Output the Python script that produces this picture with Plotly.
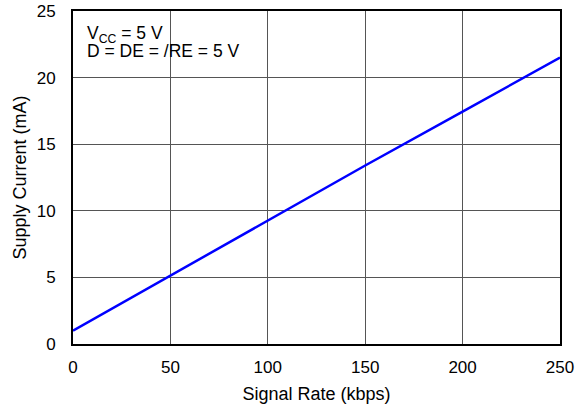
import plotly.graph_objects as go

signal_rate = [0, 50, 100, 150, 200, 250]
supply_current = [1.0, 5.15, 9.3, 13.4, 17.45, 21.5]
x_ticks = [0, 50, 100, 150, 200, 250]
y_ticks = [0, 5, 10, 15, 20, 25]
note_lines = ["V<sub>CC</sub> = 5 V", "D = DE = /RE = 5 V"]

font = "Liberation Sans, Arial, sans-serif"
W, H = 576, 410
L, R, T, B = 73, 16, 11, 66
pw, ph = W - L - R, H - T - B


def px(xp):
    return (xp - L) / pw


def py(yp):
    return 1 - (yp - T) / ph


fig = go.Figure()
fig.add_trace(go.Scatter(x=signal_rate, y=supply_current, mode="lines",
                         line=dict(color="#0000ff", width=2.5), showlegend=False))

axis_common = dict(showgrid=True, gridcolor="#555555", gridwidth=1,
                   showline=True, linecolor="black", linewidth=2, mirror=True,
                   ticks="outside", tickcolor="rgba(0,0,0,0)", zeroline=False,
                   automargin=False, tickfont=dict(size=17))

fig.update_layout(
    width=W, height=H,
    margin=dict(l=L, r=R, t=T, b=B),
    paper_bgcolor="white", plot_bgcolor="white",
    font=dict(family=font, size=17, color="black"),
    xaxis=dict(range=[0, 250], tickvals=x_ticks, ticklen=7,
               title=dict(text="Signal Rate (kbps)", font=dict(size=18), standoff=11),
               **axis_common),
    yaxis=dict(range=[0, 25], tickvals=y_ticks, ticklen=12,
               title=dict(text="Supply Current (mA)", font=dict(size=18), standoff=5),
               **axis_common),
    shapes=[dict(type="rect", xref="paper", yref="paper", layer="between",
                 x0=px(75), x1=px(255), y0=py(69), y1=py(16),
                 fillcolor="white", line=dict(width=0))],
    annotations=[
        dict(xref="paper", yref="paper", x=px(86), y=py(22),
             xanchor="left", yanchor="top", text=note_lines[0], showarrow=False,
             align="left", font=dict(size=17.5, family=font), borderpad=0),
        dict(xref="paper", yref="paper", x=px(86), y=py(40),
             xanchor="left", yanchor="top", text=note_lines[1], showarrow=False,
             align="left", font=dict(size=17.5, family=font), borderpad=0),
    ],
)

fig.write_html("out.html", config={"displayModeBar": False},
               post_script="document.body.style.margin='0';document.body.style.overflow='hidden';")
